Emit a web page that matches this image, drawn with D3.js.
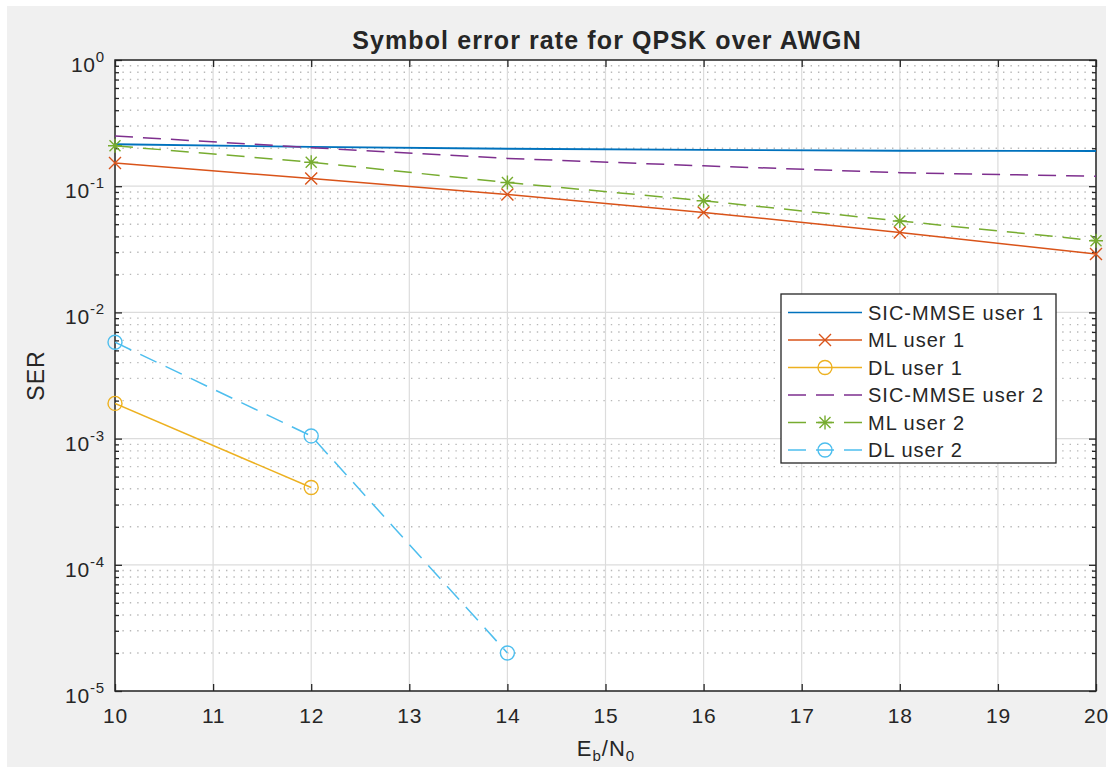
<!DOCTYPE html>
<html>
<head>
<meta charset="utf-8">
<script src="https://cdn.jsdelivr.net/npm/d3@7"></script>
<style>
  body { margin: 0; background: #ffffff; }
  text { font-family: "Liberation Sans", Arial, Helvetica, sans-serif; fill: #262626; }
</style>
</head>
<body>
<script>
// data
const snr = [10, 12, 14, 16, 18, 20];
const sicUser1 = [0.215, 0.205, 0.198, 0.194, 0.191, 0.19];
const mlUser1 = [0.153, 0.115, 0.086, 0.062, 0.043, 0.029];
const dlUser1 = [0.0019, 0.00041, null, null, null, null];
const sicUser2 = [0.25, 0.202, 0.166, 0.145, 0.128, 0.12];
const mlUser2 = [0.209, 0.155, 0.107, 0.0767, 0.053, 0.037];
const dlUser2 = [0.0058, 0.00105, 0.00002, null, null, null];

const seriesNames = ["SIC-MMSE user 1", "ML user 1", "DL user 1", "SIC-MMSE user 2", "ML user 2", "DL user 2"];
const seriesValues = [sicUser1, mlUser1, dlUser1, sicUser2, mlUser2, dlUser2];
const seriesColors = ["#0072bd", "#d95319", "#edb120", "#7e2f8e", "#77ac30", "#4dbeee"];
const seriesMarkers = ["none", "x", "o", "none", "*", "o"];
const seriesDashed = [false, false, false, true, true, true];

const xTickValues = [10, 11, 12, 13, 14, 15, 16, 17, 18, 19, 20];
const yTickExponents = [0, -1, -2, -3, -4, -5];

const W = 1115, H = 771;
const plot = { left: 115, top: 60, right: 1096, bottom: 691 };
const dash = "18,10";

const svg = d3.select("body").append("svg")
  .attr("width", W)
  .attr("height", H);

// figure background
svg.append("rect")
  .attr("x", 7).attr("y", 6)
  .attr("width", 1099).attr("height", 761)
  .attr("fill", "#f0f0f0");

svg.append("rect")
  .attr("x", plot.left).attr("y", plot.top)
  .attr("width", plot.right - plot.left).attr("height", plot.bottom - plot.top)
  .attr("fill", "#ffffff");

const x = d3.scaleLinear().domain([10, 20]).range([plot.left, plot.right]);
const y = d3.scaleLog().domain([1e-5, 1]).range([plot.bottom, plot.top]);

const majorY = yTickExponents.map(e => Math.pow(10, e));
const minorY = [];
for (let e = -5; e < 0; e++) {
  for (let m = 2; m <= 9; m++) minorY.push(m * Math.pow(10, e));
}

// minor grid (dotted)
svg.append("g")
  .selectAll("line")
  .data(minorY)
  .join("line")
    .attr("x1", plot.left).attr("x2", plot.right)
    .attr("y1", d => y(d)).attr("y2", d => y(d))
    .attr("stroke", "#b8b8b8")
    .attr("stroke-width", 1.4)
    .attr("stroke-dasharray", "1.4,6");

// major grid
const grid = svg.append("g").attr("stroke", "#dcdcdc").attr("stroke-width", 1.2);
grid.selectAll(".gx")
  .data(xTickValues)
  .join("line")
    .attr("x1", d => x(d)).attr("x2", d => x(d))
    .attr("y1", plot.top).attr("y2", plot.bottom);
grid.selectAll(".gy")
  .data(majorY)
  .join("line")
    .attr("x1", plot.left).attr("x2", plot.right)
    .attr("y1", d => y(d)).attr("y2", d => y(d));

// axes (ticks pointing inward)
const axisColor = "#262626";
const styleAxis = g => {
  g.select(".domain").remove();
  g.selectAll(".tick line").attr("stroke", axisColor).attr("stroke-width", 1.3);
};

svg.append("g")
  .attr("transform", `translate(0,${plot.bottom})`)
  .call(d3.axisBottom(x).tickValues(xTickValues).tickSize(-7).tickSizeOuter(0).tickFormat(d3.format("d")))
  .call(styleAxis)
  .call(g => g.selectAll(".tick text")
    .attr("y", 32).attr("dy", null)
    .attr("font-size", 21).attr("letter-spacing", 0.8)
    .attr("fill", axisColor));

svg.append("g")
  .attr("transform", `translate(0,${plot.top})`)
  .call(d3.axisTop(x).tickValues(xTickValues).tickSize(-7).tickSizeOuter(0).tickFormat(""))
  .call(styleAxis);

svg.append("g")
  .attr("transform", `translate(${plot.left},0)`)
  .call(d3.axisLeft(y).tickValues(majorY).tickSize(-7).tickSizeOuter(0).tickFormat(""))
  .call(styleAxis);
svg.append("g")
  .attr("transform", `translate(${plot.left},0)`)
  .call(d3.axisLeft(y).tickValues(minorY).tickSize(-4).tickSizeOuter(0).tickFormat(""))
  .call(styleAxis);
svg.append("g")
  .attr("transform", `translate(${plot.right},0)`)
  .call(d3.axisRight(y).tickValues(majorY).tickSize(-7).tickSizeOuter(0).tickFormat(""))
  .call(styleAxis);
svg.append("g")
  .attr("transform", `translate(${plot.right},0)`)
  .call(d3.axisRight(y).tickValues(minorY).tickSize(-4).tickSizeOuter(0).tickFormat(""))
  .call(styleAxis);

// y tick labels 10^k
const yLabels = svg.append("g")
  .selectAll("text")
  .data(yTickExponents)
  .join("text")
    .attr("x", 105)
    .attr("y", d => y(Math.pow(10, d)) + 12)
    .attr("text-anchor", "end")
    .attr("letter-spacing", 0.8);
yLabels.append("tspan").attr("font-size", 21).text("10");
yLabels.append("tspan").attr("font-size", 15).attr("dy", -10).text(d => d);

// axes box
svg.append("rect")
  .attr("x", plot.left).attr("y", plot.top)
  .attr("width", plot.right - plot.left).attr("height", plot.bottom - plot.top)
  .attr("fill", "none")
  .attr("stroke", axisColor)
  .attr("stroke-width", 1.5);

// series
svg.append("clipPath").attr("id", "clip")
  .append("rect")
  .attr("x", plot.left).attr("y", plot.top)
  .attr("width", plot.right - plot.left).attr("height", plot.bottom - plot.top);

const line = d3.line()
  .defined(d => d.v != null)
  .x(d => x(d.x))
  .y(d => y(d.v));

const markerPath = type => {
  if (type === "x") return "M-6,-6L6,6M-6,6L6,-6";
  if (type === "*") return "M-5.5,-5.5L5.5,5.5M-5.5,5.5L5.5,-5.5M-7,0L7,0M0,-7L0,7";
  return null;
};

const drawMarker = (g, type, color) => {
  if (type === "o") {
    g.append("circle").attr("r", 7).attr("fill", "none")
      .attr("stroke", color).attr("stroke-width", 1.4);
  } else if (type !== "none") {
    g.append("path").attr("d", markerPath(type)).attr("fill", "none")
      .attr("stroke", color).attr("stroke-width", 1.4);
  }
};

seriesValues.forEach((vals, i) => {
  const pts = snr.map((s, j) => ({ x: s, v: vals[j] }));
  svg.append("path")
    .datum(pts)
    .attr("clip-path", "url(#clip)")
    .attr("fill", "none")
    .attr("stroke", seriesColors[i])
    .attr("stroke-width", i === 0 ? 1.8 : 1.5)
    .attr("stroke-dasharray", seriesDashed[i] ? dash : null)
    .attr("d", line);

  if (seriesMarkers[i] !== "none") {
    svg.append("g")
      .selectAll("g")
      .data(pts.filter(d => d.v != null))
      .join("g")
        .attr("transform", d => `translate(${x(d.x)},${y(d.v)})`)
        .each(function() { drawMarker(d3.select(this), seriesMarkers[i], seriesColors[i]); });
  }
});

// title and labels
svg.append("text")
  .attr("x", 607).attr("y", 49)
  .attr("text-anchor", "middle")
  .attr("font-size", 25)
  .attr("font-weight", "bold")
  .attr("letter-spacing", 1.1)
  .attr("fill", "#000")
  .text("Symbol error rate for QPSK over AWGN");

svg.append("text")
  .attr("transform", `translate(44,${(plot.top + plot.bottom) / 2}) rotate(-90)`)
  .attr("text-anchor", "middle")
  .attr("font-size", 23)
  .attr("letter-spacing", 1)
  .text("SER");

const xLabel = svg.append("text")
  .attr("x", 606).attr("y", 756)
  .attr("text-anchor", "middle")
  .attr("font-size", 22)
  .attr("letter-spacing", 1);
xLabel.append("tspan").text("E");
xLabel.append("tspan").attr("font-size", 15).attr("dy", 5).text("b");
xLabel.append("tspan").attr("dy", -5).text("/N");
xLabel.append("tspan").attr("font-size", 15).attr("dy", 5).text("0");

// legend
const legend = svg.append("g");
legend.append("rect")
  .attr("x", 781).attr("y", 294)
  .attr("width", 275).attr("height", 169)
  .attr("fill", "#ffffff")
  .attr("stroke", axisColor)
  .attr("stroke-width", 1.3);

const rows = legend.selectAll(".row")
  .data(seriesNames)
  .join("g")
    .attr("transform", (d, i) => `translate(0,${312.5 + i * 27.5})`);

rows.append("line")
  .attr("x1", 788).attr("x2", 862)
  .attr("stroke", (d, i) => seriesColors[i])
  .attr("stroke-width", 1.5)
  .attr("stroke-dasharray", (d, i) => seriesDashed[i] ? dash : null);

rows.each(function(d, i) {
  const m = d3.select(this).append("g").attr("transform", "translate(825,0)");
  drawMarker(m, seriesMarkers[i], seriesColors[i]);
});

rows.append("text")
  .attr("x", 868).attr("y", 7)
  .attr("font-size", 20)
  .attr("letter-spacing", 1)
  .attr("fill", "#000")
  .text(d => d);
</script>
</body>
</html>
